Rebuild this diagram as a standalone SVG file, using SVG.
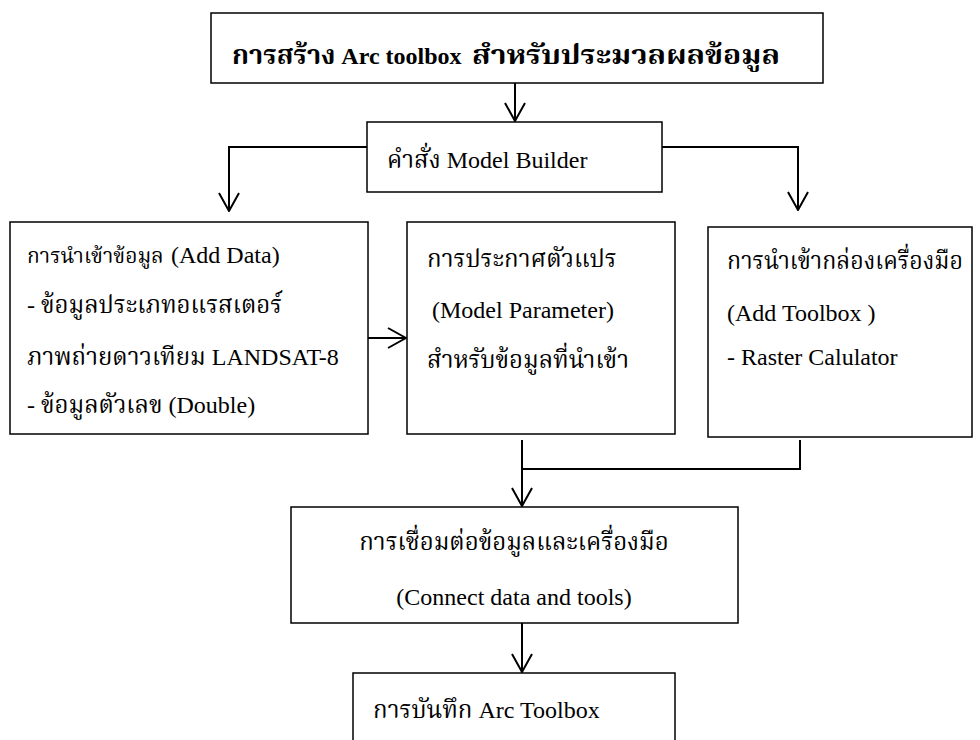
<svg xmlns="http://www.w3.org/2000/svg" width="980" height="740" viewBox="0 0 980 740">
<defs>
<style>
.box{fill:#fff;stroke:#000;stroke-width:1.5}
.l{font-family:"Liberation Serif","Times New Roman",serif;font-size:24px;fill:#000}
.th{font-family:"Liberation Serif","Noto Serif Thai","Noto Sans Thai",serif;font-size:24px;fill:#000}
.b{font-weight:bold}
.tt{font-size:27px}
.ln{fill:none;stroke:#000;stroke-width:2}
</style>
<marker id="ah" viewBox="0 0 20 22" refX="19" refY="11" markerWidth="20" markerHeight="22" markerUnits="userSpaceOnUse" orient="auto">
<path d="M1,1 L19,11 L1,21" fill="none" stroke="#000" stroke-width="2"/>
</marker>
</defs>
<rect width="980" height="740" fill="#fff"/>
<g id="connectors">
<path class="ln" d="M515,83 V121" marker-end="url(#ah)"/>
<path class="ln" d="M367,147 H229 V211" marker-end="url(#ah)"/>
<path class="ln" d="M662,147 H798 V210" marker-end="url(#ah)"/>
<path class="ln" d="M368,338 H406" marker-end="url(#ah)"/>
<path class="ln" d="M522,440 V506" marker-end="url(#ah)"/>
<path class="ln" d="M522,469 H800 V440"/>
<path class="ln" d="M522,623 V672" marker-end="url(#ah)"/>
</g>
<g id="n-title">
<rect class="box" x="211" y="13" width="612" height="70"/>
<text class="th b tt" x="232" y="64">การสร้าง<tspan class="l b"> Arc toolbox</tspan></text>
<text class="th b tt" x="472" y="64" textLength="308" lengthAdjust="spacingAndGlyphs">สำหรับประมวลผลข้อมูล</text>
</g>
<g id="n-model">
<rect class="box" x="367" y="122" width="295" height="70"/>
<text class="th" x="387" y="168">คำสั่ง<tspan class="l"> Model Builder</tspan></text>
</g>
<g id="n-adddata">
<rect class="box" x="10" y="222" width="358" height="212"/>
<text class="th" x="27" y="263" style="font-size:21px">การนำเข้าข้อมูล</text>
<text class="l" x="171" y="263">(Add Data)</text>
<text class="th" x="27" y="313"><tspan class="l">- </tspan>ข้อมูลประเภทอแรสเตอร์</text>
<text class="th" x="27" y="365">ภาพถ่ายดาวเทียม<tspan class="l"> LANDSAT-8</tspan></text>
<text class="th" x="27" y="413"><tspan class="l">- </tspan>ข้อมูลตัวเลข<tspan class="l"> (Double)</tspan></text>
</g>
<g id="n-param">
<rect class="box" x="407" y="222" width="268" height="212"/>
<text class="th" x="427" y="267">การประกาศตัวแปร</text>
<text class="l" x="432" y="318">(Model Parameter)</text>
<text class="th" x="427" y="368">สำหรับข้อมูลที่นำเข้า</text>
</g>
<g id="n-toolbox">
<rect class="box" x="708" y="227" width="264" height="210"/>
<text class="th" x="727" y="269" textLength="236" lengthAdjust="spacingAndGlyphs">การนำเข้ากล่องเครื่องมือ</text>
<text class="l" x="727" y="321">(Add Toolbox )</text>
<text class="l" x="727" y="365">- Raster Calulator</text>
</g>
<g id="n-connect">
<rect class="box" x="291" y="507" width="447" height="116"/>
<text class="th" x="514" y="550" text-anchor="middle">การเชื่อมต่อข้อมูลและเครื่องมือ</text>
<text class="l" x="514" y="605" text-anchor="middle">(Connect data and tools)</text>
</g>
<g id="n-save">
<rect class="box" x="353" y="673" width="322" height="80"/>
<text class="th" x="373" y="718">การบันทึก<tspan class="l"> Arc Toolbox</tspan></text>
</g>
</svg>
